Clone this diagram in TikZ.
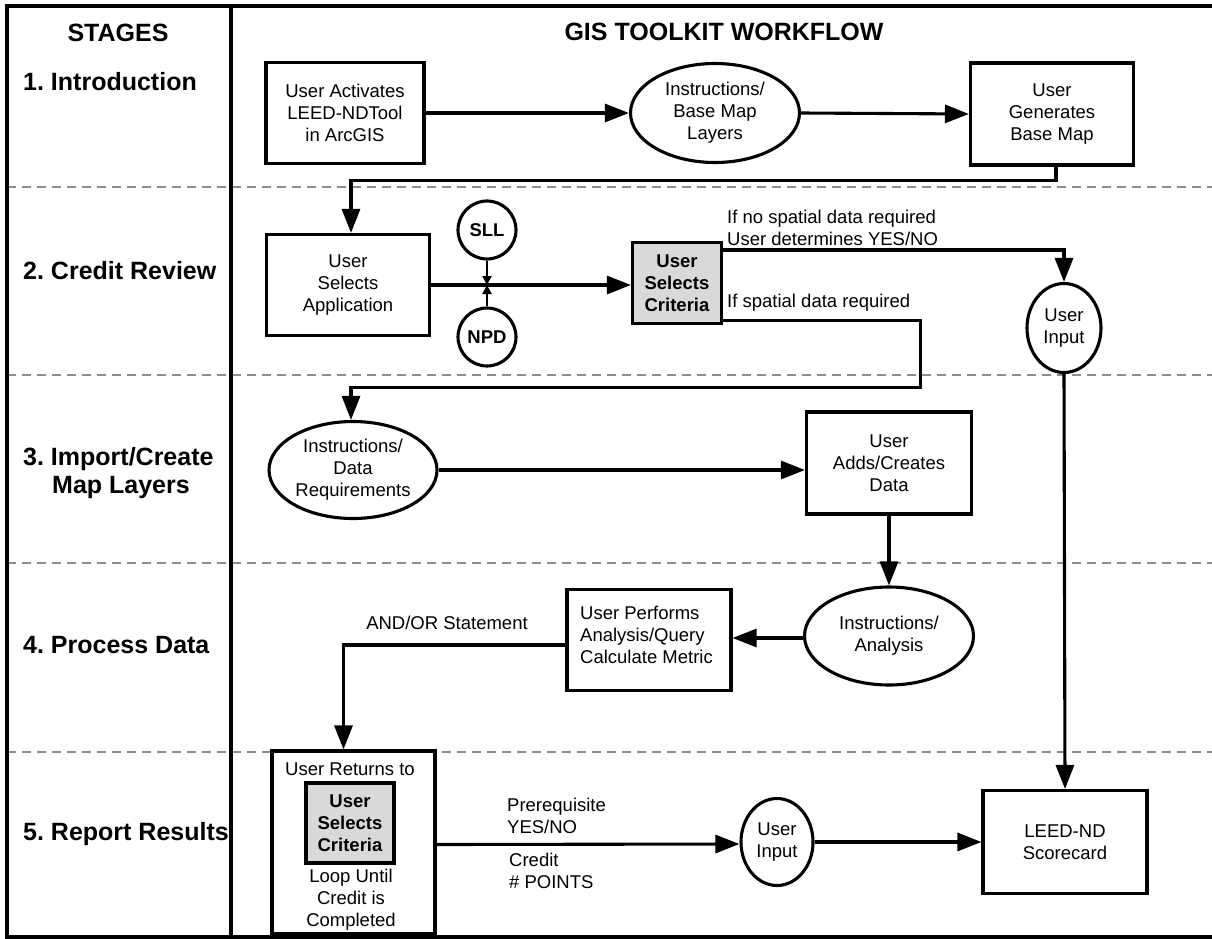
\documentclass[tikz,border=0pt]{standalone}
\usepackage{fontspec}
\setmainfont{Liberation Sans}
\usetikzlibrary{arrows.meta,shapes.geometric}
\frenchspacing
\begin{document}
\frenchspacing
\begin{tikzpicture}[x=1pt,y=-1pt,
  every node/.style={font=\fontsize{18.5}{22}\selectfont, inner sep=0pt, align=center},
  box/.style={draw, line width=3.1pt, rectangle},
  oval/.style={draw, line width=3.1pt, ellipse},
  bubble/.style={draw, line width=3.1pt, circle, minimum size=58pt, font=\bfseries\fontsize{18.5}{22}\selectfont},
  graybox/.style={draw, line width=3.1pt, rectangle, fill=black!15, font=\bfseries\fontsize{18.5}{22}\selectfont},
  arr/.style={line width=3.1pt, -{Triangle[length=24pt,width=18pt]}},
  sarr/.style={line width=2.6pt, -{Triangle[length=9pt,width=9pt]}},
  lane/.style={black!45, line width=1.4pt, dash pattern=on 9pt off 6pt},
  stage/.style={font=\bfseries\fontsize{25}{28}\selectfont, anchor=west, align=left},
  lbl/.style={anchor=west, align=left},
  frame/.style={line width=3.2pt}
]
\useasboundingbox (0,0) rectangle (1212,939);

% lanes
\foreach \yy in {187,375,563,752} \draw[lane] (7,\yy) -- (1212,\yy);

% frame
\draw[frame] (1212,6) -- (7,6) -- (7,937) -- (1212,937);
\draw[frame] (231,6) -- (231,937);

% headers
\node[stage, anchor=center] (hstages) at (118,33) {STAGES};
\node[font=\bfseries\fontsize{25}{28}\selectfont] (hflow) at (724,32) {GIS TOOLKIT WORKFLOW};

% stage labels
\node[stage] (s1) at (23,82) {1. Introduction};
\node[stage] (s2) at (23,271) {2. Credit Review};
\node[stage] (s3) at (23,473) {3. Import/Create\\\hspace*{29pt}Map Layers};
\node[stage] (s4) at (23,645) {4. Process Data};
\node[stage] (s5) at (23,834) {5. Report Results};

% stage 1
\node[box, minimum width=158pt, minimum height=101pt] (A) at (345,113) {User Activates\\LEED-NDTool\\in ArcGIS};
\node[oval, minimum width=169pt, minimum height=99pt] (B) at (715,113) {Instructions/\\Base Map\\Layers};
\node[box, minimum width=163pt, minimum height=102pt] (C) at (1052,114) {User\\Generates\\Base Map};

% stage 2
\node[box, minimum width=163pt, minimum height=101pt] (D) at (348,285) {User\\Selects\\Application};
\node[bubble] (SLL) at (487,230) {SLL};
\node[bubble] (NPD) at (487,337) {NPD};
\coordinate (J0) at (487,285);
\node[graybox, minimum width=89pt, minimum height=81pt] (E) at (677,283) {User\\Selects\\Criteria};
\node[oval, minimum width=74pt, minimum height=89pt] (G) at (1064,328) {User\\Input};
\node[lbl] (t1) at (727,228) {If no spatial data required\\User determines YES/NO};
\node[lbl] (t2) at (727,303) {If spatial data required};

% stage 3
\node[oval, minimum width=168pt, minimum height=97pt] (F) at (353,470) {Instructions/\\Data\\Requirements};
\node[box, minimum width=165pt, minimum height=102pt] (H) at (889,463) {User\\Adds/Creates\\Data};

% stage 4
\node[oval, minimum width=169pt, minimum height=98pt] (I) at (889,636) {Instructions/\\Analysis};
\node[box, minimum width=164pt, minimum height=101pt] (J) at (649,640) {};
\node[lbl] (Jt) at (580,635) {User Performs\\Analysis/Query\\Calculate Metric};
\node (t3) at (447,623) {AND/OR Statement};

% stage 5
\node[box, minimum width=163pt, minimum height=183pt] (K) at (353.5,842.5) {};
\node (Kt1) at (350,769) {User Returns to};
\node[graybox, minimum width=88pt, minimum height=80pt] (KI) at (350,823) {User\\Selects\\Criteria};
\node (Kt2) at (351,900) {Loop Until\\Credit is\\Completed};
\node[oval, minimum width=72pt, minimum height=87pt] (L) at (777,842) {User\\Input};
\node[box, minimum width=164pt, minimum height=103pt] (M) at (1065,842) {LEED-ND\\Scorecard};
\node[lbl] (t4) at (507,816) {Prerequisite\\YES/NO};
\node[lbl] (t5) at (509,871) {Credit\\\# POINTS};

% connectors
\draw[arr] (A.east) -- (B.west);
\draw[arr] (B.east) -- (C.west);
\draw[arr] ([xshift=4pt]C.south) -- ++(0,14) -| ([xshift=3pt]D.north);
\draw[arr] (D.east) -- (E.west |- D.east);
\draw[sarr] (SLL.south) -- (J0);
\draw[sarr] (NPD.north) -- (J0);
\draw[arr] ([yshift=-9pt]E.north east) -| (G.north);
\draw[arr] ([yshift=5pt]E.south east) -- ++(197,0) -- ++(0,67) -| ([xshift=-2pt]F.north);
\draw[arr] (F.east) -- (H.west |- F.east);
\draw[arr] (H.south) -- (I.north);
\draw[arr] ([yshift=-2pt]I.west) -- (J.east |- 0,638);
\draw[arr] ([yshift=-5pt]J.west) -| ([xshift=-10pt]K.north);
\draw[arr] ([yshift=-2pt]K.east) -- (L.west |- 0,844);
\draw[arr] (L.east) -- (M.west);
\draw[arr] (G.south) -- (M.north);
\end{tikzpicture}
\end{document}
